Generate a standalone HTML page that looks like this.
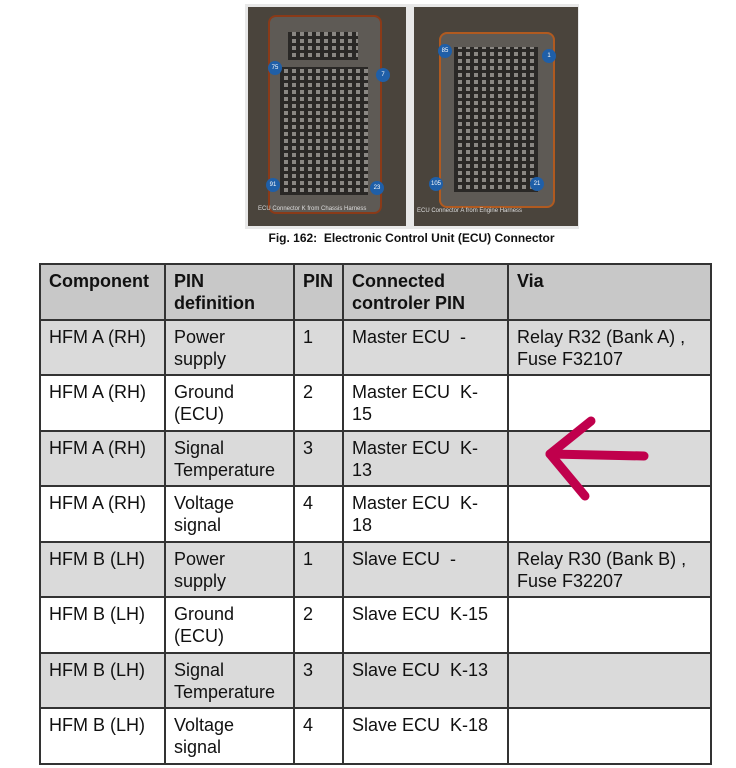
<!DOCTYPE html>
<html><head><meta charset="utf-8"><style>
body{margin:0;width:736px;height:768px;background:#fff;position:relative;overflow:hidden;font-family:"Liberation Sans",Arial,sans-serif}
.ph{position:absolute;top:7px;height:219px;background:#4a443c}
.body{position:absolute;background:#5e5a55;border:2px solid #2a2520;border-radius:8px}
.grid{position:absolute;background-color:#8a8783;background-image:repeating-linear-gradient(90deg,#2a2826 0 4px,transparent 4px 8px),repeating-linear-gradient(0deg,#2a2826 0 3px,transparent 3px 7px)}
.dot{position:absolute;width:14px;height:14px;border-radius:50%;background:#1f5fa8;color:#fff;font-size:6px;line-height:14px;text-align:center}
.lab{position:absolute;color:#ddd;font-size:6px;white-space:nowrap}
table{position:absolute;left:39px;top:263px;border-collapse:collapse}
td{border:2px solid #333;vertical-align:top;font-size:18px;line-height:22px;padding:5px 8px 0 8px;color:#111;box-sizing:border-box}
tr{height:55.5px}
.g td{background:#dadada}
.h td{background:#c8c8c8;font-weight:bold}
</style></head><body>
<div style="position:absolute;left:245px;top:4px;width:334px;height:225px;background:#e8e8e8"></div>
<div class="ph" style="left:248px;width:158px">
 <div class="body" style="left:20px;top:8px;width:110px;height:195px;border-color:#8a3a18"></div>
 <div class="grid" style="left:32px;top:60px;width:88px;height:128px"></div>
 <div class="grid" style="left:40px;top:25px;width:70px;height:28px"></div>
 <div class="dot" style="left:20px;top:54px">75</div>
 <div class="dot" style="left:128px;top:61px">7</div>
 <div class="dot" style="left:18px;top:171px">91</div>
 <div class="dot" style="left:122px;top:174px">23</div>
 <div class="lab" style="left:10px;top:199px">ECU Connector K from Chassis Harness</div>
</div>
<div class="ph" style="left:414px;width:164px">
 <div class="body" style="left:25px;top:25px;width:112px;height:172px;border-color:#b05a20"></div>
 <div class="grid" style="left:40px;top:40px;width:84px;height:145px"></div>
 <div class="dot" style="left:24px;top:37px">85</div>
 <div class="dot" style="left:128px;top:42px">1</div>
 <div class="dot" style="left:15px;top:170px">105</div>
 <div class="dot" style="left:116px;top:170px">21</div>
 <div class="lab" style="left:3px;top:201px">ECU Connector A from Engine Harness</div>
</div>
<div style="position:absolute;left:0;width:823px;top:231px;text-align:center;font-size:12px;font-weight:bold;color:#111">Fig. 162:&nbsp; Electronic Control Unit (ECU) Connector</div>
<table>
<colgroup><col style="width:125px"><col style="width:129px"><col style="width:49px"><col style="width:165px"><col style="width:203px"></colgroup>
<tr class="h"><td>Component</td><td>PIN<br>definition</td><td>PIN</td><td>Connected<br>controler PIN</td><td>Via</td></tr>
<tr class="g"><td>HFM A (RH)</td><td>Power<br>supply</td><td>1</td><td>Master ECU&nbsp; -</td><td>Relay R32 (Bank A) ,<br>Fuse F32107</td></tr>
<tr><td>HFM A (RH)</td><td>Ground<br>(ECU)</td><td>2</td><td>Master ECU&nbsp; K-<br>15</td><td></td></tr>
<tr class="g"><td>HFM A (RH)</td><td>Signal<br>Temperature</td><td>3</td><td>Master ECU&nbsp; K-<br>13</td><td></td></tr>
<tr><td>HFM A (RH)</td><td>Voltage<br>signal</td><td>4</td><td>Master ECU&nbsp; K-<br>18</td><td></td></tr>
<tr class="g"><td>HFM B (LH)</td><td>Power<br>supply</td><td>1</td><td>Slave ECU&nbsp; -</td><td>Relay R30 (Bank B) ,<br>Fuse F32207</td></tr>
<tr><td>HFM B (LH)</td><td>Ground<br>(ECU)</td><td>2</td><td>Slave ECU&nbsp; K-15</td><td></td></tr>
<tr class="g"><td>HFM B (LH)</td><td>Signal<br>Temperature</td><td>3</td><td>Slave ECU&nbsp; K-13</td><td></td></tr>
<tr><td>HFM B (LH)</td><td>Voltage<br>signal</td><td>4</td><td>Slave ECU&nbsp; K-18</td><td></td></tr>
</table>
<svg style="position:absolute;left:0;top:0" width="736" height="768"><g stroke="#c0004c" stroke-width="9" stroke-linecap="round" stroke-linejoin="round" fill="none"><path d="M644 456 L550 454"/><path d="M591 421 L550 454 L585 496"/></g></svg>
</body></html>
